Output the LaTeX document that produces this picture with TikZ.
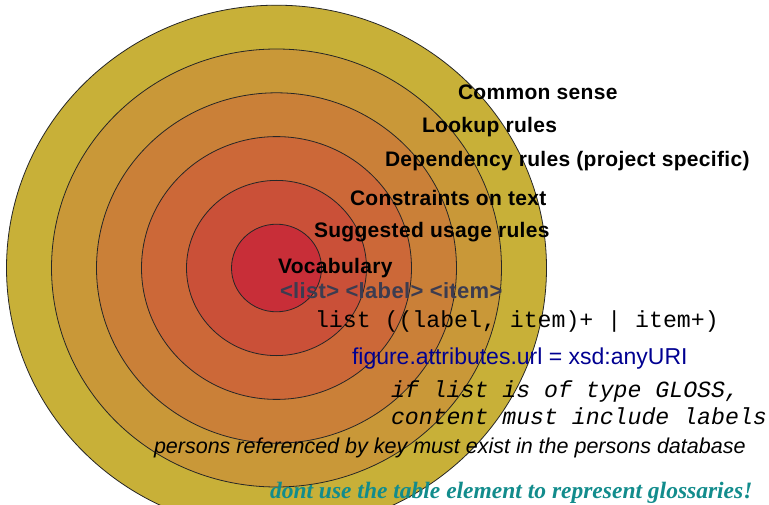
\documentclass[tikz,border=0pt]{standalone}
\usepackage{fontspec}
\setmainfont{Liberation Sans}
\newfontfamily\ringfont[LetterSpace=1.5]{Liberation Sans}
\newfontfamily\codefont{Liberation Mono}
\newfontfamily\notefont{Liberation Serif}
\usetikzlibrary{positioning}
\definecolor{ringA}{RGB}{200,46,56}
\definecolor{ringB}{RGB}{202,80,56}
\definecolor{ringC}{RGB}{204,104,56}
\definecolor{ringD}{RGB}{202,128,56}
\definecolor{ringE}{RGB}{201,152,56}
\definecolor{ringF}{RGB}{200,176,56}
\definecolor{tagtext}{RGB}{60,60,80}
\definecolor{urltext}{RGB}{0,0,145}
\definecolor{warntext}{RGB}{18,140,140}
\tikzset{
	ring/.style={draw=black!85, line width=0.8pt},
	every node/.style={inner sep=0pt, outer sep=0pt}
}

\begin{document}
\begin{tikzpicture}[x=1pt, y=-1pt,
	ringlabel/.style={anchor=base west, font=\ringfont\bfseries\fontsize{21}{25}\selectfont},
	codeline/.style={anchor=base west, font=\codefont\fontsize{23.2}{27}\selectfont}]
	\useasboundingbox (0,0) rectangle (769,505);
	\def\cx{276.5}
	\def\cy{268}
	% rings, outside in
	\foreach \k/\col in {6/ringF,5/ringE,4/ringD,3/ringC,2/ringB,1/ringA}
		\draw[ring, fill=\col] (\cx,\cy) ellipse [x radius=45*\k, y radius=43.8*\k];
	\node[ringlabel] (common) at (458,100) {Common sense};
	\node[ringlabel] (lookup) at (422,133) {Lookup rules};
	\node[ringlabel] (depend) at (385,167) {Dependency rules (project specific)};
	\node[ringlabel] (constr) at (350,206) {Constraints on text};
	\node[ringlabel] (suggest) at (314,238) {Suggested usage rules};
	\node[ringlabel] (vocab) at (278,274) {Vocabulary};
	\node[ringlabel, text=tagtext, font=\ringfont\bfseries\fontsize{22}{26}\selectfont] (tags) at (280,299) {<list> <label> <item>};
	\node[codeline] (model) at (315,327) {list ((label, item)+ | item+)};
	\node[anchor=base west, text=urltext, font=\fontsize{23}{27}\selectfont] (url) at (352,364) {figure.attributes.url = xsd:anyURI};
	\node[codeline, font=\codefont\itshape\fontsize{23.2}{27}\selectfont] (gloss1) at (391,397) {if list is of type GLOSS,};
	\node[codeline, font=\codefont\itshape\fontsize{23.2}{27}\selectfont] (gloss2) at (391,424) {content must include labels};
	\node[anchor=base west, font=\itshape\fontsize{21.5}{25}\selectfont] (persons) at (154,453) {persons referenced by key must exist in the persons database};
	\node[anchor=base west, text=warntext, font=\notefont\bfseries\itshape\fontsize{23.5}{27}\selectfont] (table) at (270,498) {dont use the table element to represent glossaries!};
\end{tikzpicture}
\end{document}
